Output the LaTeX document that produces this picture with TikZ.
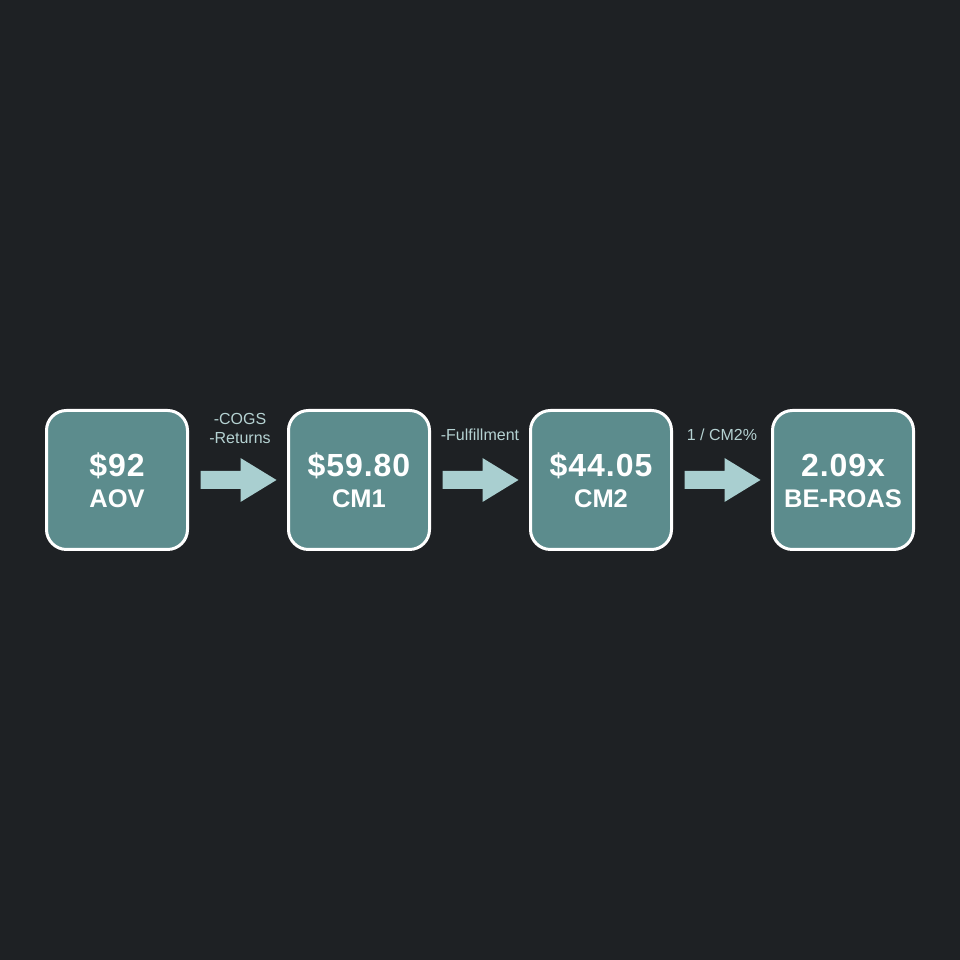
\documentclass[tikz,border=0pt]{standalone}
\usepackage{fontspec}
\setmainfont{Liberation Sans}
\usetikzlibrary{calc}
\definecolor{bgc}{HTML}{1E2124}
\definecolor{boxfill}{HTML}{5C8C8D}
\definecolor{arrowc}{HTML}{A9CFD0}
\definecolor{labc}{HTML}{B5D2D2}
\tikzset{
  valbox/.style={draw=white, line width=3pt, fill=boxfill, rounded corners=20pt,
    minimum width=141pt, minimum height=139pt, inner sep=0pt},
  valtext/.style={anchor=base, text=white, inner sep=0pt,
    font=\fontsize{32}{36}\selectfont\bfseries\addfontfeatures{LetterSpace=3}},
  nametext/.style={anchor=base, text=white, inner sep=0pt,
    font=\fontsize{25.5}{30}\selectfont\bfseries},
  flowarrow/.style={fill=arrowc, draw=none},
  steplabel/.style={anchor=base, text=labc, inner sep=0pt, font=\fontsize{16}{19}\selectfont}
}
\newcommand{\flowarr}[2]{%
  \fill[flowarrow] ($(#1.east)+(11.5,-9)$) -- ++(40,0) -- ++(0,-13) -- ($(#2.west)+(-10.5,0)$)
    -- ($(#1.east)+(51.5,22)$) -- ++(0,-13) -- ++(-40,0) -- cycle;}
\begin{document}
\begin{tikzpicture}[x=1pt,y=1pt]
\fill[bgc] (0,0) rectangle (960,960);
\useasboundingbox (0,0) rectangle (960,960);
\node[valbox] (aov) at (117,480) {};
\node[valbox] (cm1) at (359,480) {};
\node[valbox] (cm2) at (601,480) {};
\node[valbox] (roas) at (843,480) {};
\node[valtext] (v1) at (117,483) {\$92};
\node[valtext] (v2) at (359,483) {\$59.80};
\node[valtext] (v3) at (601,483) {\$44.05};
\node[valtext] (v4) at (843,483) {2.09x};
\node[nametext] (n1) at (117,452) {AOV};
\node[nametext] (n2) at (359,452) {CM1};
\node[nametext] (n3) at (601,452) {CM2};
\node[nametext] (n4) at (843,452) {BE-ROAS};
\flowarr{aov}{cm1}
\flowarr{cm1}{cm2}
\flowarr{cm2}{roas}
\node[steplabel] (l1a) at (240,535) {-COGS};
\node[steplabel] (l1b) at (240,516) {-Returns};
\node[steplabel] (l2) at (480,519) {-Fulfillment};
\node[steplabel] (l3) at (722,519) {1 / CM2\%};
\end{tikzpicture}
\end{document}
